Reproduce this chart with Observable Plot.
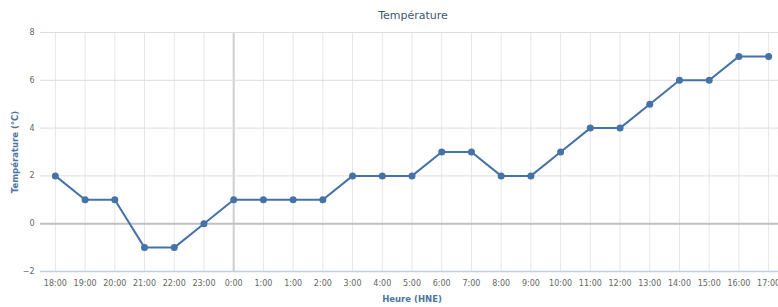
<!DOCTYPE html>
<html><head><meta charset="utf-8">
<script src="https://cdn.jsdelivr.net/npm/d3@7"></script>
<script src="https://cdn.jsdelivr.net/npm/@observablehq/plot@0.6"></script>
<style>
body{margin:0;background:#fff;font-family:"DejaVu Sans",Verdana,sans-serif;}
#title{width:778px;height:24px;box-sizing:border-box;padding-left:48px;text-align:center;font-size:11px;line-height:32px;color:#3E576F;}
#chart svg{display:block;overflow:visible;}
</style></head><body>
<div id="title">Température</div>
<div id="chart"></div>
<script>
const hours = ["18:00","19:00","20:00","21:00","22:00","23:00","0:00","1:00","1:00","2:00","3:00","4:00","5:00","6:00","7:00","8:00","9:00","10:00","11:00","12:00","13:00","14:00","15:00","16:00","17:00"];
const temps = [2,1,1,-1,-1,0,1,1,1,1,2,2,2,3,3,2,2,3,4,4,5,6,6,7,7];
const yTicks = [-2,0,2,4,6,8];
const xTitle = "Heure (HNE)";
const yTitle = "Température (°C)";

const idx = d3.range(hours.length);
const data = idx.map(i => ({i, t: temps[i]}));
const midnight = [hours.indexOf("0:00")];

const chart = Plot.plot({
  width: 778, height: 283,
  marginLeft: 40, marginRight: -5, marginTop: 8, marginBottom: 36,
  style: {fontFamily: '"DejaVu Sans", Verdana, sans-serif', fontSize: "8px", color: "#666", overflow: "visible"},
  x: {type: "point", domain: idx, padding: 0.5, round: false},
  y: {domain: [-2, 8]},
  marks: [
    Plot.gridX(idx, {stroke: "#e6e6e6", strokeOpacity: 1}),
    Plot.ruleX(midnight, {stroke: "#cfcfcf", strokeWidth: 2}),
    Plot.gridY(yTicks, {stroke: "#dcdcdc", strokeOpacity: 1}),
    Plot.ruleY([0], {stroke: "#c0c0c0", strokeWidth: 2}),
    Plot.ruleY([-2], {stroke: "#c0d0e0", strokeWidth: 1.5}),
    Plot.axisX(idx, {tickFormat: i => hours[i], tickSize: 0, tickPadding: 9, label: null, fill: "#666"}),
    Plot.axisY(yTicks, {tickSize: 0, tickPadding: 6, label: null, fill: "#666"}),
    Plot.text([xTitle], {frameAnchor: "bottom", dy: 30, fontWeight: "bold", fontSize: 8.5, fill: "#4d759e"}),
    Plot.text([yTitle], {frameAnchor: "left", dx: -25, rotate: -90, textAnchor: "middle", fontWeight: "bold", fontSize: 8.5, fill: "#4d759e"}),
    Plot.line(data, {x: "i", y: "t", stroke: "#4572A7", strokeWidth: 2}),
    Plot.dot(data, {x: "i", y: "t", fill: "#4572A7", r: 3.5})
  ]
});
document.getElementById("chart").append(chart);
</script>
</body></html>
